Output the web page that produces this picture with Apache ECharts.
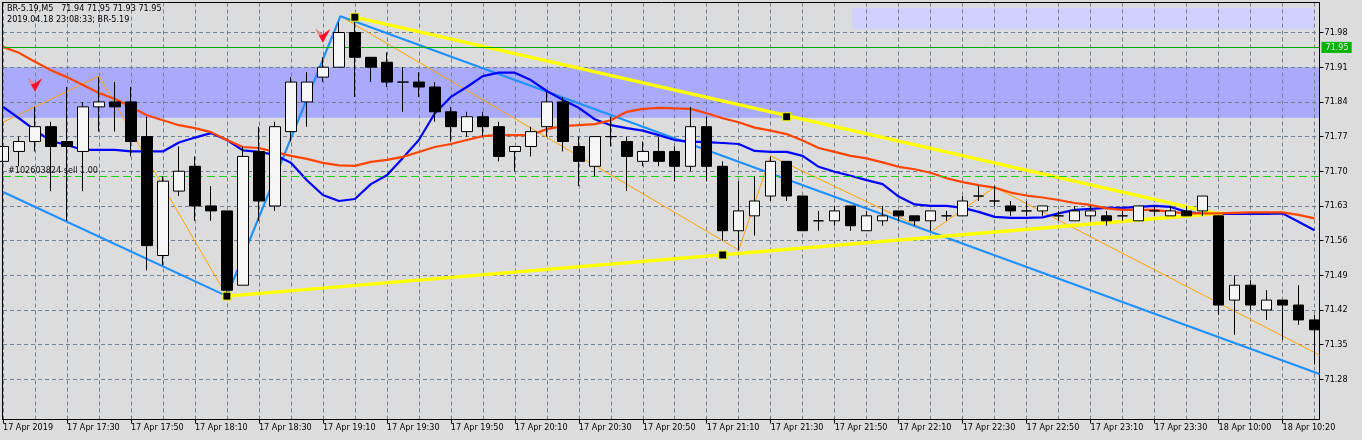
<!DOCTYPE html>
<html>
<head>
<meta charset="utf-8">
<style>html,body{margin:0;padding:0;background:#dcdcdc}#c{width:1362px;height:440px}</style>
<script src="https://cdn.jsdelivr.net/npm/echarts@6/dist/echarts.min.js"></script>
</head>
<body>
<div id="c"></div>
<script>
const headerLine1 = 'BR-5.19,M5   71.94 71.95 71.93 71.95';
const headerLine2 = '2019.04.18 23:08:33; BR-5.19';
const tickLabels = ['17 Apr 2019','17 Apr 17:30','17 Apr 17:50','17 Apr 18:10','17 Apr 18:30','17 Apr 19:10','17 Apr 19:30','17 Apr 19:50','17 Apr 20:10','17 Apr 20:30','17 Apr 20:50','17 Apr 21:10','17 Apr 21:30','17 Apr 21:50','17 Apr 22:10','17 Apr 22:30','17 Apr 22:50','17 Apr 23:10','17 Apr 23:30','18 Apr 10:00','18 Apr 10:20'];
const priceTicks = [71.28,71.35,71.42,71.49,71.56,71.63,71.70,71.77,71.84,71.91,71.98];
const opens = [71.72,71.74,71.76,71.79,71.76,71.74,71.83,71.84,71.84,71.77,
71.53,71.66,71.71,71.63,71.62,71.47,71.74,71.63,71.78,71.84,
71.89,71.91,71.98,71.93,71.92,71.88,71.88,71.87,71.82,71.78,
71.81,71.79,71.74,71.75,71.79,71.84,71.75,71.71,71.77,71.76,
71.72,71.74,71.74,71.71,71.79,71.71,71.58,71.61,71.65,71.72,
71.65,71.60,71.60,71.63,71.58,71.60,71.62,71.61,71.60,71.61,
71.61,71.65,71.64,71.63,71.62,71.62,71.61,71.60,71.61,71.61,
71.61,71.60,71.62,71.61,71.62,71.62,71.61,71.44,71.47,71.42,
71.44,71.43,71.40];
const closes = [71.75,71.76,71.79,71.75,71.75,71.83,71.84,71.83,71.76,71.55,
71.68,71.70,71.63,71.62,71.46,71.73,71.64,71.79,71.88,71.88,
71.91,71.98,71.93,71.91,71.88,71.88,71.87,71.82,71.79,71.81,
71.79,71.73,71.75,71.78,71.84,71.76,71.72,71.77,71.77,71.73,
71.74,71.72,71.71,71.79,71.71,71.58,71.62,71.64,71.72,71.65,
71.58,71.60,71.62,71.59,71.61,71.61,71.61,71.60,71.62,71.61,
71.64,71.65,71.64,71.62,71.62,71.63,71.61,71.62,71.62,71.60,
71.61,71.63,71.62,71.62,71.61,71.65,71.43,71.47,71.43,71.44,
71.43,71.40,71.38];
const lows = [71.72,71.71,71.74,71.66,71.60,71.66,71.78,71.78,71.73,71.50,
71.51,71.65,71.60,71.60,71.44,71.47,71.60,71.62,71.76,71.79,
71.88,71.91,71.85,71.88,71.87,71.82,71.85,71.80,71.76,71.77,
71.77,71.72,71.70,71.73,71.77,71.74,71.67,71.69,71.75,71.66,
71.71,71.71,71.68,71.70,71.68,71.56,71.54,71.57,71.64,71.64,
71.58,71.58,71.59,71.58,71.58,71.59,71.60,71.59,71.58,71.60,
71.61,71.64,71.63,71.61,71.61,71.61,71.60,71.60,71.60,71.59,
71.60,71.60,71.61,71.61,71.61,71.61,71.41,71.37,71.42,71.40,
71.36,71.39,71.31];
const highs = [71.75,71.77,71.83,71.80,71.87,71.84,71.89,71.88,71.87,71.81,
71.69,71.75,71.73,71.67,71.62,71.75,71.79,71.80,71.89,71.90,
71.93,72.00,72.01,71.93,71.94,71.91,71.90,71.88,71.83,71.82,
71.82,71.80,71.75,71.79,71.86,71.85,71.77,71.77,71.81,71.77,
71.76,71.77,71.75,71.83,71.81,71.72,71.68,71.69,71.73,71.72,
71.65,71.62,71.63,71.63,71.62,71.63,71.62,71.61,71.62,71.62,
71.65,71.67,71.67,71.64,71.64,71.63,71.62,71.63,71.63,71.62,
71.62,71.63,71.63,71.63,71.63,71.65,71.61,71.49,71.48,71.46,
71.44,71.47,71.41];
const blueMA = [71.830,71.807,71.783,71.761,71.753,71.743,71.743,71.743,71.740,71.740,71.740,71.758,71.768,71.777,71.763,71.742,71.739,71.733,71.717,71.682,71.652,71.640,
71.644,71.674,71.692,71.727,71.763,71.817,71.850,71.870,71.892,71.899,71.899,71.884,71.862,71.844,71.828,71.805,71.793,71.787,71.782,71.773,71.763,
71.760,71.759,71.757,71.755,71.741,71.739,71.739,71.731,71.709,71.699,71.691,71.682,71.674,71.649,71.633,71.630,71.630,71.626,71.618,71.608,71.606,
71.606,71.607,71.615,71.622,71.624,71.626,71.626,71.628,71.630,71.628,71.618,71.614,71.614,71.614,71.614,71.614,71.615,71.598,71.581];
const redMA = [71.951,71.939,71.921,71.904,71.890,71.874,71.858,71.846,71.830,71.813,71.803,71.793,71.787,71.779,71.763,71.749,71.747,71.739,71.731,71.725,71.717,71.712,
71.711,71.719,71.723,71.729,71.739,71.749,71.755,71.763,71.771,71.773,71.773,71.773,71.785,71.791,71.793,71.795,71.803,71.820,71.826,71.828,71.827,
71.826,71.817,71.807,71.799,71.788,71.782,71.775,71.762,71.747,71.739,71.731,71.726,71.718,71.709,71.704,71.697,71.686,71.678,71.672,71.667,71.657,
71.651,71.647,71.642,71.636,71.632,71.625,71.622,71.622,71.622,71.618,71.615,71.615,71.615,71.616,71.617,71.617,71.617,71.612,71.605];
const channelLow = [[0,71.658],[14,71.448]];
const channelHigh = [[14,71.448],[21.1,72.013],[82.3125,71.291]];
const yellowUpper = [[22,72.011],[76.25,71.612]];
const yellowLower = [[14,71.448],[76.25,71.616]];
const zigzag = [[0,71.799],[6,71.892],[14,71.448],[21.1,72.013],[46,71.541],[48,71.731],[58,71.577],[62,71.668],[82.3125,71.329]];
const anchors = [[14,71.448],[22,72.011],[45,71.531],[49,71.81]];
const sellArrows = [[2,71.874],[20,71.973]];
const bidPrice = 71.95;
const orderPrice = 71.689;
const orderLabel = '#102603824 sell 1.00';
const bandMain = [71.91,71.808];
const bandLight = [53.1,82,72.03,71.9865];

const FONTCSS = '"DejaVu Sans Condensed","Liberation Sans"';
const FS = 9;
const candles = opens.map((o,i)=>[i,o,closes[i],lows[i],highs[i]]);
const idx = a => a.map((v,i)=>[i,v]);
const lineSeries = (name,data,color,width,z) => ({name,type:'line',data,showSymbol:false,symbol:'none',smooth:false,z,lineStyle:{color,width},silent:true});
const labelTicks = tickLabels.map((_,i)=>i*4);

const chart = echarts.init(document.getElementById('c'),null,{renderer:'canvas'});
chart.setOption({
  animation:false,
  backgroundColor:'#dcdcdc',
  grid:{left:2.5,top:2.5,width:1317,height:417,show:false,containLabel:false},
  xAxis:[{
    type:'value',min:0,max:82.3125,position:'bottom',z:1,
    axisLine:{show:true,onZero:false,lineStyle:{color:'#000',width:1}},
    axisTick:{show:true,length:4,customValues:labelTicks,lineStyle:{color:'#000'}},
    axisLabel:{show:true,customValues:labelTicks,align:'left',margin:4,color:'#000',fontFamily:FONTCSS,fontSize:FS,
      hideOverlap:false,formatter:v=>tickLabels[Math.round(v/4)]||''},
    splitLine:{show:false}
  },{
    type:'value',min:0,max:82.3125,interval:2,position:'top',z:1,
    axisLine:{show:true,onZero:false,lineStyle:{color:'#000',width:1}},
    axisTick:{show:false},axisLabel:{show:false},
    splitLine:{show:true,lineStyle:{color:'#708090',width:1,type:[4,3]}}
  }],
  yAxis:{
    type:'value',min:71.199,max:72.0406,position:'right',z:1,
    axisLine:{show:true,onZero:false,lineStyle:{color:'#000',width:1}},
    axisTick:{show:true,length:4,customValues:priceTicks,lineStyle:{color:'#000'}},
    axisLabel:{show:true,customValues:priceTicks,margin:5,color:'#000',fontFamily:FONTCSS,fontSize:FS,formatter:v=>v.toFixed(2)},
    splitLine:{show:true,lineStyle:{color:'#708090',width:1,type:[4,3]}}
  },
  graphic:[
    {type:'rect',left:2,top:2,shape:{width:1,height:418},style:{fill:'#000'},z:10,silent:true},
    {type:'text',left:7,top:4,style:{text:headerLine1,fill:'#000',font:FS+'px '+FONTCSS},z:10,silent:true},
    {type:'text',left:7,top:15,style:{text:headerLine2,fill:'#000',font:FS+'px '+FONTCSS},z:10,silent:true}
  ],
  series:[
    {name:'bands',type:'line',data:[],silent:true,z:0,zlevel:0,
      markArea:{silent:true,z:0,itemStyle:{opacity:1},label:{show:false},data:[
        [{yAxis:bandMain[0],itemStyle:{color:'#aaaafc'}},{yAxis:bandMain[1]}],
        [{xAxis:bandLight[0],yAxis:bandLight[2],itemStyle:{color:'#d1d1fd'}},{xAxis:bandLight[1],yAxis:bandLight[3]}]
      ]}},
    {name:'levels',type:'line',data:[],silent:true,z:2,
      markLine:{silent:true,symbol:'none',animation:false,data:[
        {yAxis:bidPrice,lineStyle:{color:'#00aa00',width:1,type:'solid'},
          label:{show:true,position:'end',distance:2,formatter:()=>bidPrice.toFixed(2),color:'#e6e6e6',backgroundColor:'#00b400',padding:[1,3,1,4],fontFamily:FONTCSS,fontSize:FS}},
        {yAxis:orderPrice,lineStyle:{color:'#14d214',width:1,type:[8,4]},
          label:{show:true,position:'insideStartTop',distance:1,formatter:()=>orderLabel,color:'#111',fontFamily:FONTCSS,fontSize:FS,padding:[0,0,0,4]}}
      ]}},
    lineSeries('zigzag',zigzag,'#ffa500',1,2),
    lineSeries('channelLow',channelLow,'#1e90ff',2.2,3),
    lineSeries('channelHigh',channelHigh,'#1e90ff',2.2,3),
    lineSeries('blueMA',idx(blueMA),'#0000ff',2.2,3),
    lineSeries('yellowUpper',yellowUpper,'#ffff00',3.5,3),
    lineSeries('yellowLower',yellowLower,'#ffff00',3.5,3),
    lineSeries('redMA',idx(redMA),'#ff4500',2.2,3),
    {name:'BR-5.19',type:'candlestick',data:candles,barWidth:11,z:5,silent:true,clip:true,
      itemStyle:{color:'#f5f5f5',color0:'#000',borderColor:'#000',borderColor0:'#000',borderWidth:1}},
    {name:'anchors',type:'scatter',data:anchors,symbol:'rect',symbolSize:8,z:6,silent:true,
      itemStyle:{color:'#000',borderColor:'#ffff00',borderWidth:1,opacity:1}},
    {name:'sellWings',type:'scatter',data:sellArrows,symbol:'path://M0,0 L7,5 L14,0 L7,13 Z',symbolSize:[14,13],z:6,silent:true,
      itemStyle:{color:'#f08a8a',borderColor:'#e06a70',borderWidth:0.5,opacity:1}},
    {name:'sellRed',type:'scatter',data:sellArrows,symbol:'path://M3,6 L7,5 L14,0 L7,13 Z',symbolSize:[11,13],symbolOffset:[1.5,0],z:7,silent:true,
      itemStyle:{color:'#ff0a28',opacity:1}}
  ]
});
</script>
</body>
</html>
